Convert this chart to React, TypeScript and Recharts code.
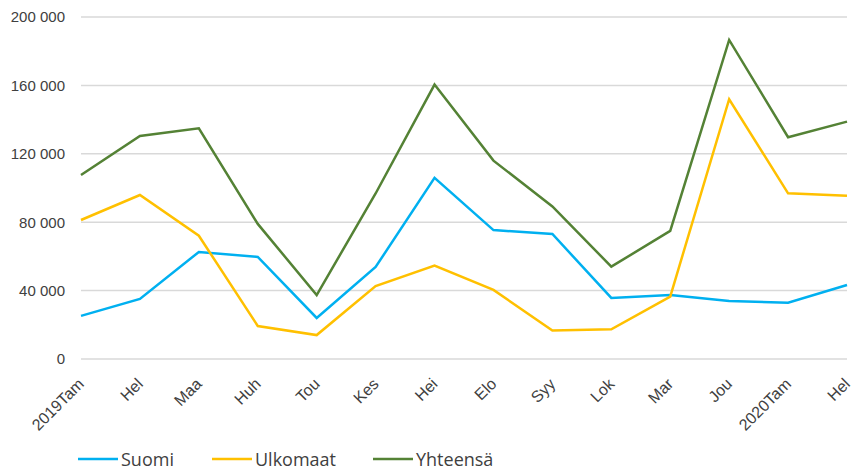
import { LineChart, Line, XAxis, YAxis, CartesianGrid } from 'recharts';

// Months (Finnish abbreviations), 2019 Jan – 2020 Feb
const months = ['2019Tam', 'Hel', 'Maa', 'Huh', 'Tou', 'Kes', 'Hei', 'Elo', 'Syy', 'Lok', 'Mar', 'Jou', '2020Tam', 'Hel'];

const suomi = [25200, 35100, 62600, 59700, 24000, 53800, 105900, 75400, 73100, 35700, 37400, 33900, 32900, 43300];
const ulkomaat = [81300, 95900, 72100, 19300, 14000, 42700, 54600, 40400, 16600, 17400, 36500, 151900, 96900, 95500];
const yhteensa = [107600, 130400, 134900, 79000, 37400, 96800, 160500, 116000, 89200, 54000, 74900, 186600, 129700, 138800];

const yTicks = [0, 40000, 80000, 120000, 160000, 200000];

const data = months.map((m, i) => ({
  month: m,
  Suomi: suomi[i],
  Ulkomaat: ulkomaat[i],
  Yhteensä: yhteensa[i],
}));

// 200000 -> "200 000"
const fmt = (v: number) => String(v).replace(/\B(?=(\d{3})+(?!\d))/g, ' ');

const XTick = (props: any) => {
  const { x, y, payload } = props;
  return (
    <g transform={`translate(${x + 4},${y + 18})`}>
      <text
        x={0}
        y={0}
        textAnchor="end"
        transform="rotate(-45)"
        fill="#404040"
        fontSize={16}
        fontFamily="'Liberation Sans', Arial, sans-serif"
      >
        {payload.value}
      </text>
    </g>
  );
};

const series = [
  { key: 'Suomi', color: '#00B0F0', left: 78 },
  { key: 'Ulkomaat', color: '#FFC000', left: 212 },
  { key: 'Yhteensä', color: '#548235', left: 373 },
];

export default function App() {
  return (
    <div style={{ position: 'relative', width: 853, height: 469, background: '#fff', overflow: 'hidden' }}>
      <style>{`body { margin: 0; overflow: hidden; }`}</style>
      <LineChart width={853} height={469} data={data} margin={{ top: 17, right: 6, left: 0, bottom: 22 }}>
        <CartesianGrid vertical={false} stroke="#d9d9d9" strokeWidth={1.5} />
        <XAxis dataKey="month" axisLine={false} tickLine={false} interval={0} height={88} tick={<XTick />} />
        <YAxis
          domain={[0, 200000]}
          ticks={yTicks}
          tickFormatter={fmt}
          axisLine={false}
          tickLine={false}
          tickSize={0}
          tickMargin={16}
          width={81}
          tick={{ fill: '#404040', fontSize: 15, fontFamily: "'Liberation Sans', Arial, sans-serif" }}
        />
        {series.map((s) => (
          <Line key={s.key} type="linear" dataKey={s.key} stroke={s.color} strokeWidth={2.5} dot={false} isAnimationActive={false} />
        ))}
      </LineChart>
      {/* legend */}
      {series.map((s) => (
        <div key={s.key} style={{ position: 'absolute', left: s.left, top: 448, height: 22, display: 'flex', alignItems: 'center' }}>
          <svg width={40} height={22} style={{ display: 'block' }}>
            <line x1={0} y1={11} x2={40} y2={11} stroke={s.color} strokeWidth={2.5} />
          </svg>
          <span style={{ marginLeft: 3, fontSize: 18, lineHeight: '22px', color: '#404040', fontFamily: "'Open Sans', sans-serif" }}>{s.key}</span>
        </div>
      ))}
    </div>
  );
}
